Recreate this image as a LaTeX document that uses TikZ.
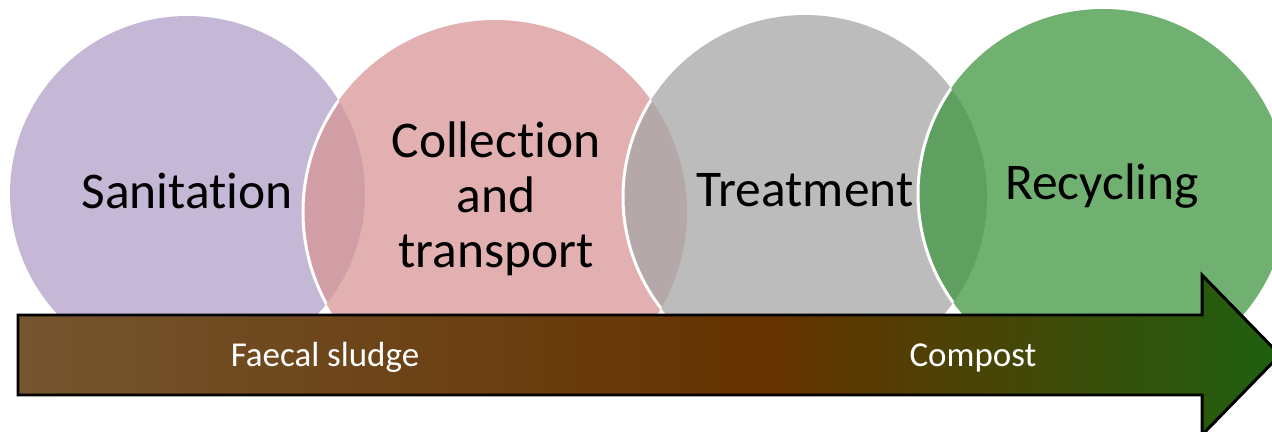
\documentclass[tikz,border=0pt]{standalone}
\usepackage{fontspec}
\setmainfont{Carlito}[Ligatures=NoCommon]
\begin{document}
\begin{tikzpicture}[x=0.02cm,y=0.02cm]
 \definecolor{sanfill}{HTML}{B0A0C8}
 \definecolor{colfill}{HTML}{D89696}
 \definecolor{trtfill}{HTML}{A6A6A6}
 \definecolor{recfill}{HTML}{409640}
 \definecolor{sludgeL}{HTML}{74552F}
 \definecolor{sludgeM}{HTML}{653200}
 \definecolor{sludgeR}{HTML}{1F6010}
 \pgfdeclarehorizontalshading{sludgeflow}{100bp}{color(0bp)=(sludgeL); color(25bp)=(sludgeL); color(55bp)=(sludgeM); color(75bp)=(sludgeR); color(100bp)=(sludgeR)}
 \tikzset{stage/.style={fill opacity=0.75},
          rim/.style={white,line width=1.7pt},
          stagetext/.style={font=\fontsize{29.3pt}{31.3pt}\selectfont,align=center},
          flowtext/.style={white,anchor=base,font=\fontsize{19.9pt}{22pt}\selectfont}}
 \useasboundingbox (0,0) rectangle (1272,432);
 % circles, cut off at the top of the arrow
 \begin{scope}
  \clip (0,117) rectangle (1272,432);
  \fill [sanfill,stage] (187.5,238.5) circle (177.5);
  \fill [colfill,stage] (495,220) circle (192);
  \begin{scope}
   \clip (187.5,238.5) circle (177.5);
   \draw [rim] (495,220) circle (192);
  \end{scope}
  \fill [trtfill,stage] (805,235) circle (182);
  \begin{scope}
   \clip (495,220) circle (192);
   \draw [rim] (805,235) circle (182);
  \end{scope}
  \fill [recfill,stage] (1103,238) circle (185);
  \begin{scope}
   \clip (805,235) circle (182);
   \draw [rim] (1103,238) circle (185);
  \end{scope}
 \end{scope}
 \node [stagetext,anchor=base] (sanit) at (187,223) {Sanitation};
 \node [stagetext] (collect) at (496,233) {Collection\\and\\transport};
 \node [stagetext,anchor=base] (treat) at (805,225) {Treatment};
 \node [stagetext,anchor=base] (recyc) at (1102,232) {Recycling};
 % the flow arrow
 \shade [shading=sludgeflow,draw=black,line width=1.7pt]
 (18,117) -- (1202,117) -- (1202,157) -- (1280,77) -- (1202,-3) -- (1202,37) -- (18,37) -- cycle;
 \node [flowtext] (sludge) at (325,65) {Faecal sludge};
 \node [flowtext] (compost) at (973,65) {Compost};
\end{tikzpicture}
\end{document}
